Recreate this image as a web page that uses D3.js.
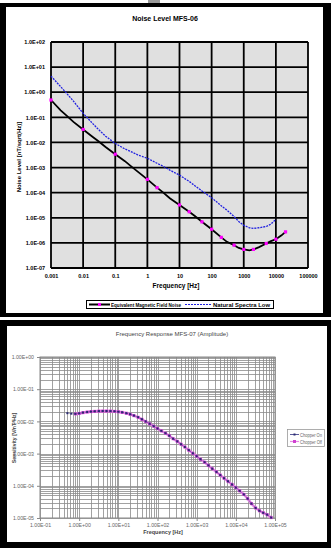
<!DOCTYPE html>
<html><head><meta charset="utf-8">
<script src="https://cdn.jsdelivr.net/npm/d3@7"></script>
<style>
html,body{margin:0;padding:0;background:#fff;}
svg{display:block;font-family:"Liberation Sans",Arial,sans-serif;}
</style></head>
<body>
<svg id="c" width="333" height="548"></svg>
<script>
// ---------- Top chart: Noise Level MFS-06 ----------
const noiseFreq = [0.001,0.002,0.003,0.005,0.01,0.02,0.03,0.05,0.1,0.2,0.3,0.5,1,2,3,5,10,20,30,50,100,200,300,500,700,1000,1500,2000,3000,5000,7000,10000,15000,20000];
const noiseVals = [0.49,0.19,0.12,0.066,0.033,0.0166,0.0112,0.0066,0.0034,0.0018,0.00117,0.00069,0.00034,0.000158,0.000105,0.00006,0.0000324,0.0000174,0.0000117,0.0000069,0.0000035,0.00000166,0.0000011,8.1e-7,6.3e-7,5.5e-7,5.0e-7,5.5e-7,6.8e-7,9.5e-7,1.17e-6,1.4e-6,2.0e-6,2.75e-6];
const noiseMarkerFreq = [0.001,0.01,0.1,1,2,10,20,50,100,200,500,1000,2000,5000,10000,20000];
const naturalFreq = [0.001,0.002,0.003,0.005,0.01,0.02,0.03,0.05,0.1,0.2,0.3,0.5,1,2,3,5,10,20,30,50,100,200,300,500,700,1000,1500,2000,3000,5000,7000,10000];
const naturalVals = [4.4,1.66,0.93,0.44,0.145,0.056,0.033,0.0178,0.0091,0.0055,0.0044,0.0032,0.00234,0.00148,0.00115,0.00079,0.0005,0.00028,0.00019,0.000117,0.000063,0.00003,0.00002,0.0000112,0.0000071,0.000005,0.000004,0.0000038,0.000004,0.0000045,0.0000056,0.0000087];
const topYTicks = [1e2,1e1,1e0,1e-1,1e-2,1e-3,1e-4,1e-5,1e-6,1e-7];
const topYLabels = ["1.0E+02","1.0E+01","1.0E+00","1.0E-01","1.0E-02","1.0E-03","1.0E-04","1.0E-05","1.0E-06","1.0E-07"];
const topXTicks = [1e-3,1e-2,1e-1,1,10,100,1000,10000,100000];
const topXLabels = ["0.001","0.01","0.1","1","10","100","1000","10000","100000"];
const topTitle = "Noise Level MFS-06";
const topXTitle = "Frequency [Hz]";
const topYTitle = "Noise Level [nT/sqrt(Hz)]";
const topSeriesNames = ["Equivalent Magnetic Field Noise","Natural Spectra Low"];

// ---------- Bottom chart: Frequency Response MFS-07 ----------
const respFreq = [0.5,0.63,0.8,1,1.25,1.6,2,2.5,3.2,4,5,6.3,8,10,12.5,16,20,25,32,40,50,63,80,100,125,160,200,250,320,400,500,630,800,1000,1250,1600,2000,2500,3200,4000,5000,6300,8000,10000,12500,16000,20000,25000,32000,40000,50000,63000,80000];
const chopperOn = [0.018,0.0174,0.0172,0.0178,0.0188,0.0196,0.0202,0.0206,0.0209,0.021,0.021,0.0209,0.0206,0.02,0.0192,0.018,0.0167,0.0152,0.0135,0.0117,0.01,0.0085,0.0071,0.006,0.0051,0.0043,0.0036,0.0029,0.0024,0.00195,0.0016,0.00128,0.00102,0.00083,0.00067,0.00054,0.00043,0.00034,0.00027,0.000215,0.000172,0.000138,0.00011,0.000088,0.00007,0.000054,0.00004,0.000028,0.0000205,0.0000168,0.0000145,0.0000127,0.0000103];
const chopperOff = [null,null,0.0171,0.0177,0.0187,0.0195,0.0201,0.0205,0.0208,0.0209,0.0209,0.0208,0.0205,0.0199,0.0191,0.0179,0.0166,0.0151,0.0134,0.0116,0.0099,0.0084,0.0071,0.006,0.0051,0.0043,0.0036,0.0029,0.0024,0.00195,0.0016,0.00128,0.00102,0.00083,0.00067,0.00054,0.00043,0.00034,0.00027,0.000215,0.000172,0.000138,0.00011,0.000088,0.00007,0.000054,0.00004,0.000028,0.0000205,0.0000168,0.0000145,0.0000127,0.0000103];
const botYTicks = [1e0,1e-1,1e-2,1e-3,1e-4,1e-5];
const botYLabels = ["1.00E+00","1.00E-01","1.00E-02","1.00E-03","1.00E-04","1.00E-05"];
const botXTicks = [1e-1,1e0,1e1,1e2,1e3,1e4,1e5];
const botXLabels = ["1.00E-01","1.00E+00","1.00E+01","1.00E+02","1.00E+03","1.00E+04","1.00E+05"];
const botTitle = "Frequency Response MFS-07 (Amplitude)";
const botXTitle = "Frequency [Hz]";
const botYTitle = "Sensitivity [V/nT*Hz]";
const botSeriesNames = ["Chopper On","Chopper Off"];

const svg = d3.select("#c");

// frames
svg.append("rect").attr("x",148).attr("y",0).attr("width",12).attr("height",3).attr("fill","#9a9a9a");
function frame(x0,y0,x1,y1,t){
  svg.append("rect").attr("x",x0).attr("y",y0).attr("width",x1-x0).attr("height",y1-y0).attr("fill","#000");
  svg.append("rect").attr("x",x0+t[0]).attr("y",y0+t[1]).attr("width",x1-x0-t[0]-t[2]).attr("height",y1-y0-t[1]-t[3]).attr("fill","#fff");
}
frame(0,3,331,317,[6,4,8,4]);
frame(0,320,331,548,[7,6,4,6]);

// ===== Top chart =====
const xT = d3.scaleLog().domain([1e-3,1e5]).range([51,308]);
const yT = d3.scaleLog().domain([1e-7,1e2]).range([268,42]);
const gT = svg.append("g");
gT.append("rect").attr("x",51).attr("y",42).attr("width",257).attr("height",226).attr("fill","#e0e0e0");
gT.selectAll(".gy").data(topYTicks).join("line")
  .attr("x1",51).attr("x2",308).attr("y1",d=>yT(d)).attr("y2",d=>yT(d))
  .attr("stroke","#000").attr("stroke-width",1.8);
gT.selectAll(".gx").data(topXTicks).join("line")
  .attr("y1",42).attr("y2",268).attr("x1",d=>xT(d)).attr("x2",d=>xT(d))
  .attr("stroke","#000").attr("stroke-width",1.8);

const axYT = gT.append("g").attr("transform","translate(51,0)")
  .call(d3.axisLeft(yT).tickValues(topYTicks).tickFormat((d,i)=>topYLabels[i]).tickSize(0).tickPadding(6));
const axXT = gT.append("g").attr("transform","translate(0,268)")
  .call(d3.axisBottom(xT).tickValues(topXTicks).tickFormat((d,i)=>topXLabels[i]).tickSize(0).tickPadding(6));
[axYT,axXT].forEach(a=>{a.select(".domain").remove();
  a.selectAll("text").attr("font-size",5.5).attr("font-weight","bold").attr("fill","#000").attr("font-family","Liberation Sans, Arial, sans-serif");});

const lineT = d3.line().x(d=>xT(d[0])).y(d=>yT(d[1]));
const naturalPts = naturalFreq.map((f,i)=>[f,naturalVals[i]]);
const noisePts = noiseFreq.map((f,i)=>[f,noiseVals[i]]);
gT.append("path").attr("d",lineT(naturalPts)).attr("fill","none")
  .attr("stroke","#2020e0").attr("stroke-width",1.3).attr("stroke-dasharray","2,1");
gT.append("path").attr("d",lineT(noisePts)).attr("fill","none")
  .attr("stroke","#000").attr("stroke-width",1.8);
gT.selectAll(".mk").data(noiseMarkerFreq.map(f=>[f,noiseVals[noiseFreq.indexOf(f)]])).join("rect")
  .attr("x",d=>xT(d[0])-1.6).attr("y",d=>yT(d[1])-1.6).attr("width",3.2).attr("height",3.2).attr("fill","#ff00ff");

gT.append("text").attr("x",165).attr("y",21).attr("text-anchor","middle")
  .attr("font-size",7).attr("font-weight","bold").text(topTitle);
gT.append("text").attr("x",176).attr("y",288).attr("text-anchor","middle")
  .attr("font-size",6.5).attr("font-weight","bold").text(topXTitle);
gT.append("text").attr("transform","translate(21,157) rotate(-90)").attr("text-anchor","middle")
  .attr("font-size",6).attr("font-weight","bold").text(topYTitle);

// legend top
const lg = gT.append("g");
lg.append("rect").attr("x",86.5).attr("y",300.5).attr("width",187).attr("height",8).attr("fill","#fff").attr("stroke","#000").attr("stroke-width",1);
lg.append("line").attr("x1",89).attr("x2",110).attr("y1",304.5).attr("y2",304.5).attr("stroke","#000").attr("stroke-width",2);
lg.append("rect").attr("x",98).attr("y",303).attr("width",3).attr("height",3).attr("fill","#ff00ff");
lg.append("text").attr("x",111).attr("y",306.5).attr("font-size",5.5).attr("font-weight","bold")
  .attr("textLength",70).attr("lengthAdjust","spacingAndGlyphs").text(topSeriesNames[0]);
lg.append("line").attr("x1",185).attr("x2",211).attr("y1",304.5).attr("y2",304.5).attr("stroke","#2020e0").attr("stroke-width",1.2).attr("stroke-dasharray","2,1");
lg.append("text").attr("x",213).attr("y",306.5).attr("font-size",5.5).attr("font-weight","bold")
  .attr("textLength",57).attr("lengthAdjust","spacingAndGlyphs").text(topSeriesNames[1]);

// ===== Bottom chart =====
const xB = d3.scaleLog().domain([1e-1,1e5]).range([40,275]);
const yB = d3.scaleLog().domain([1e-5,1]).range([518,357]);
const gB = svg.append("g");
gB.append("rect").attr("x",40).attr("y",357).attr("width",235).attr("height",161).attr("fill","#fff");
gB.selectAll(".hy").data(yB.ticks()).join("line")
  .attr("x1",40).attr("x2",275).attr("y1",d=>Math.round(yB(d))+0.5).attr("y2",d=>Math.round(yB(d))+0.5)
  .attr("stroke","#8a8a8a").attr("stroke-width",0.8);
gB.selectAll(".vx").data(xB.ticks()).join("line")
  .attr("y1",357).attr("y2",518).attr("x1",d=>Math.round(xB(d))+0.5).attr("x2",d=>Math.round(xB(d))+0.5)
  .attr("stroke","#8a8a8a").attr("stroke-width",0.8);
gB.append("rect").attr("x",40).attr("y",357).attr("width",235).attr("height",161).attr("fill","none").attr("stroke","#888").attr("stroke-width",1);

const axYB = gB.append("g").attr("transform","translate(40,0)")
  .call(d3.axisLeft(yB).tickValues(botYTicks).tickFormat((d,i)=>botYLabels[i]).tickSize(3).tickPadding(3));
const axXB = gB.append("g").attr("transform","translate(0,518)")
  .call(d3.axisBottom(xB).tickValues(botXTicks).tickFormat((d,i)=>botXLabels[i]).tickSize(3).tickPadding(2));
[axYB,axXB].forEach(a=>{a.select(".domain").remove();
  a.selectAll("line").attr("stroke","#888");
  a.selectAll("text").attr("font-size",5.2).attr("fill","#666").attr("font-family","Liberation Sans, Arial, sans-serif");});

const lineB = d3.line().defined(d=>d[1]!=null).x(d=>xB(d[0])).y(d=>yB(d[1]));
const offPts = respFreq.map((f,i)=>[f,chopperOff[i]]);
const onPts = respFreq.map((f,i)=>[f,chopperOn[i]]);
gB.append("path").attr("d",lineB(offPts)).attr("fill","none").attr("stroke","#e58ae5").attr("stroke-width",2.6);
gB.selectAll(".mo").data(offPts.filter(d=>d[1]!=null)).join("rect")
  .attr("x",d=>xB(d[0])-1.5).attr("y",d=>yB(d[1])-1.5).attr("width",3).attr("height",3).attr("fill","#d040d0");
gB.append("path").attr("d",lineB(onPts)).attr("fill","none").attr("stroke","#303080").attr("stroke-width",0.6).attr("stroke-dasharray","1,1");
gB.selectAll(".mn").data(onPts).join("rect")
  .attr("x",d=>xB(d[0])-1).attr("y",d=>yB(d[1])-1).attr("width",2).attr("height",2).attr("fill","#2a2a70");

gB.append("text").attr("x",172).attr("y",336).attr("text-anchor","middle")
  .attr("font-size",6).attr("fill","#444").text(botTitle);
gB.append("text").attr("x",163).attr("y",534).attr("text-anchor","middle")
  .attr("font-size",5.5).attr("font-weight","bold").attr("fill","#444").text(botXTitle);
gB.append("text").attr("transform","translate(16,438) rotate(-90)").attr("text-anchor","middle")
  .attr("font-size",5.2).attr("font-weight","bold").attr("fill","#444").text(botYTitle);

const lb = gB.append("g");
lb.append("rect").attr("x",287.5).attr("y",429.5).attr("width",37).attr("height",17).attr("fill","#fff").attr("stroke","#999").attr("stroke-width",0.8);
lb.append("line").attr("x1",290).attr("x2",299).attr("y1",434.5).attr("y2",434.5).attr("stroke","#303080").attr("stroke-width",0.8);
lb.append("rect").attr("x",293.5).attr("y",433.5).attr("width",2).attr("height",2).attr("fill","#2a2a70");
lb.append("text").attr("x",300).attr("y",436.5).attr("font-size",4.6).attr("fill","#666")
  .attr("textLength",22).attr("lengthAdjust","spacingAndGlyphs").text(botSeriesNames[0]);
lb.append("line").attr("x1",290).attr("x2",299).attr("y1",441.5).attr("y2",441.5).attr("stroke","#e58ae5").attr("stroke-width",1.2);
lb.append("rect").attr("x",293).attr("y",440).attr("width",3).attr("height",3).attr("fill","#d040d0");
lb.append("text").attr("x",300).attr("y",443.5).attr("font-size",4.6).attr("fill","#666")
  .attr("textLength",22).attr("lengthAdjust","spacingAndGlyphs").text(botSeriesNames[1]);
</script>
</body></html>
